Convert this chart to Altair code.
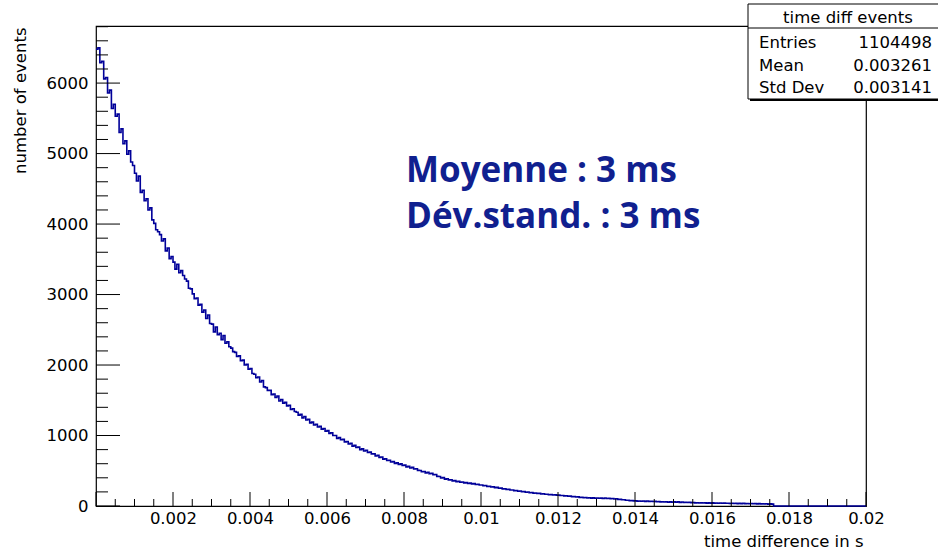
import altair as alt
import pandas as pd

# Histogram of time differences between consecutive events (bins of 50 us)
BIN_WIDTH = 0.00005
X_MAX = 0.02
Y_MAX = 6810

counts = [
    6480, 6500, 6290, 6310, 6060, 6080, 5860, 5900, 5640, 5700,
    5530, 5560, 5300, 5350, 5140, 5180, 4990, 5040, 4880, 4830,
    4720, 4610, 4680, 4450, 4480, 4330, 4360, 4200, 4230, 4060,
    4010, 3920, 3890, 3850, 3760, 3790, 3620, 3660, 3510, 3540,
    3460, 3360, 3430, 3310, 3340, 3270, 3220, 3190, 3090, 3080,
    3010, 2940, 2950, 2850, 2860, 2750, 2780, 2660, 2710, 2590,
    2580, 2470, 2540, 2430, 2450, 2360, 2420, 2310, 2330, 2260,
    2240, 2190, 2180, 2120, 2130, 2060, 2070, 2000, 2010, 1940,
    1950, 1880, 1870, 1820, 1830, 1760, 1780, 1690, 1680, 1640,
    1640, 1580, 1590, 1540, 1560, 1490, 1510, 1460, 1470, 1420,
    1430, 1370, 1380, 1340, 1330, 1290, 1300, 1250, 1270, 1220,
    1230, 1180, 1190, 1150, 1160, 1120, 1130, 1090, 1100, 1060,
    1070, 1030, 1040, 1000, 1000, 960, 970, 940, 945, 910,
    915, 880, 890, 850, 860, 830, 835, 800, 810, 780,
    790, 760, 765, 740, 740, 710, 720, 690, 695, 665,
    670, 645, 650, 625, 630, 605, 612, 590, 598, 575,
    580, 555, 562, 540, 548, 525, 528, 505, 503, 485,
    490, 470, 478, 458, 464, 445, 446, 420, 418, 398,
    402, 382, 386, 370, 372, 356, 360, 345, 350, 336,
    340, 328, 332, 320, 324, 314, 317, 306, 309, 297,
    299, 287, 290, 277, 280, 269, 271, 261, 264, 252,
    254, 243, 245, 234, 236, 226, 228, 218, 220, 209,
    212, 202, 204, 195, 198, 189, 191, 183, 185, 177,
    179, 171, 173, 166, 167, 160, 163, 157, 160, 154,
    157, 149, 150, 143, 145, 138, 140, 132, 134, 128,
    130, 123, 125, 118, 121, 114, 117, 112, 115, 110,
    114, 109, 112, 107, 114, 107, 110, 104, 106, 100,
    102, 94, 94, 88, 88, 82, 82, 76, 77, 70,
    74, 69, 72, 68, 72, 66, 71, 66, 68, 63,
    66, 60, 62, 58, 60, 56, 59, 54, 59, 54,
    58, 53, 58, 52, 57, 51, 54, 50, 52, 48,
    50, 45, 47, 42, 45, 42, 44, 41, 44, 39,
    44, 40, 43, 38, 43, 38, 41, 38, 40, 36,
    40, 35, 40, 34, 38, 33, 38, 33, 36, 32,
    36, 31, 36, 30, 33, 30, 32, 28, 31, 27,
    30, 26,
    0, 0, 0, 0, 0, 0, 0, 0, 0, 0, 0, 0, 0, 0, 0, 0,
    0, 0, 0, 0, 0, 0, 0, 0, 0, 0, 0, 0, 0, 0, 0, 0,
    0, 0, 0, 0, 0, 0, 0, 0, 0, 0, 0, 0, 0, 0, 0, 0,
]

y_labels = [0, 1000, 2000, 3000, 4000, 5000, 6000]
x_labels = [0.002, 0.004, 0.006, 0.008, 0.01, 0.012, 0.014, 0.016, 0.018, 0.02]

stat_title = "time diff events"
stat_names = ["Entries", "Mean", "Std Dev"]
stat_values = ["1104498", "0.003261", "0.003141"]

note_lines = ["Moyenne : 3 ms", "Dév.stand. : 3 ms"]

FONT = "DejaVu Sans"
LINE_COLOR = "#000099"
NOTE_COLOR = "#10208f"

# step outline: left bin edges plus the closing right edge
edges = [i * BIN_WIDTH for i in range(len(counts) + 1)]
hist = pd.DataFrame({"t": edges, "n": counts + [counts[-1]]})

y_major = pd.DataFrame({"n": y_labels})
y_minor = pd.DataFrame({"n": [v for v in range(200, 6801, 200) if v % 1000]})
x_major = pd.DataFrame({"t": [round(0.002 * i, 4) for i in range(0, 11)]})
x_minor = pd.DataFrame({"t": [round(0.0005 * i, 5) for i in range(1, 40) if i % 4]})

W, H = 770, 480
xscale = alt.Scale(domain=[0, X_MAX], nice=False, zero=False)
yscale = alt.Scale(domain=[0, Y_MAX], nice=False)

x_axis = alt.Axis(
    values=x_labels, labelExpr="datum.value == 0 ? '' : format(datum.value, '~g')",
    ticks=False, domain=False, grid=False, labelFlush=False, labelOverlap=False,
    labelFont=FONT, labelFontSize=16.5, labelColor="black", labelPadding=4,
    title="time difference in s", titleFont=FONT, titleFontSize=16.5,
    titleFontWeight="normal", titleColor="black", titleX=767, titleY=40,
    titleAlign="right", titleBaseline="alphabetic")
y_axis = alt.Axis(
    values=y_labels, format="d", ticks=False, domain=False, grid=False,
    labelFont=FONT, labelFontSize=16.5, labelColor="black", labelPadding=8,
    title="number of events", titleFont=FONT, titleFontSize=16.5,
    titleFontWeight="normal", titleColor="black", titleAngle=270,
    titleX=-71, titleY=1, titleAlign="right", titleBaseline="alphabetic")

line = alt.Chart(hist).mark_line(
    interpolate="step-after", color=LINE_COLOR, strokeWidth=1.6
).encode(
    x=alt.X("t:Q", scale=xscale, axis=x_axis),
    y=alt.Y("n:Q", scale=yscale, axis=y_axis),
)

# inward ticks drawn on the frame
ytick_major = alt.Chart(y_major).mark_rule(color="black", strokeWidth=1).encode(
    y=alt.Y("n:Q", scale=yscale, axis=y_axis), x=alt.value(0), x2=alt.value(24))
ytick_minor = alt.Chart(y_minor).mark_rule(color="black", strokeWidth=1).encode(
    y=alt.Y("n:Q", scale=yscale, axis=y_axis), x=alt.value(0), x2=alt.value(12))
xtick_major = alt.Chart(x_major).mark_rule(color="black", strokeWidth=1).encode(
    x=alt.X("t:Q", scale=xscale, axis=x_axis), y=alt.value(H), y2=alt.value(H - 14))
xtick_minor = alt.Chart(x_minor).mark_rule(color="black", strokeWidth=1).encode(
    x=alt.X("t:Q", scale=xscale, axis=x_axis), y=alt.value(H), y2=alt.value(H - 7))

one = pd.DataFrame({"k": [0]})

# statistics box in the top-right corner
box_shadow = alt.Chart(one).mark_rect(color="black").encode(
    x=alt.value(654), x2=alt.value(848), y=alt.value(-20), y2=alt.value(75))
box = alt.Chart(one).mark_rect(fill="white", stroke="black", strokeWidth=1).encode(
    x=alt.value(652), x2=alt.value(846), y=alt.value(-22), y2=alt.value(73))
box_sep = alt.Chart(one).mark_rule(color="black", strokeWidth=1).encode(
    x=alt.value(652), x2=alt.value(846), y=alt.value(2))
box_title = alt.Chart(one).mark_text(
    font=FONT, fontSize=16.5, color="black", align="center", baseline="alphabetic"
).encode(x=alt.value(752), y=alt.value(-3), text=alt.value(stat_title))

stat_layers = []
for i, (name, val) in enumerate(zip(stat_names, stat_values)):
    yy = 22 + i * 22.5
    stat_layers.append(alt.Chart(one).mark_text(
        font=FONT, fontSize=16.5, color="black", align="left", baseline="alphabetic"
    ).encode(x=alt.value(663), y=alt.value(yy), text=alt.value(name)))
    stat_layers.append(alt.Chart(one).mark_text(
        font=FONT, fontSize=16.5, color="black", align="right", baseline="alphabetic"
    ).encode(x=alt.value(836), y=alt.value(yy), text=alt.value(val)))

note_layers = []
for i, txt in enumerate(note_lines):
    note_layers.append(alt.Chart(one).mark_text(
        font="Open Sans", fontSize=35, fontWeight="bold", color=NOTE_COLOR,
        align="left", baseline="alphabetic"
    ).encode(x=alt.value(310), y=alt.value(156 + i * 46), text=alt.value(txt)))

chart = alt.layer(
    line, ytick_major, ytick_minor, xtick_major, xtick_minor,
    box_shadow, box, box_sep, box_title, *stat_layers, *note_layers
).properties(
    width=W, height=H,
    padding={"left": 96, "top": 26, "right": 72, "bottom": 47},
    autosize=alt.AutoSizeParams(type="none"),
    background="white",
).configure_view(stroke="black", strokeWidth=1.2)

chart.save("out.html", embed_options={"renderer": "svg", "actions": False})
